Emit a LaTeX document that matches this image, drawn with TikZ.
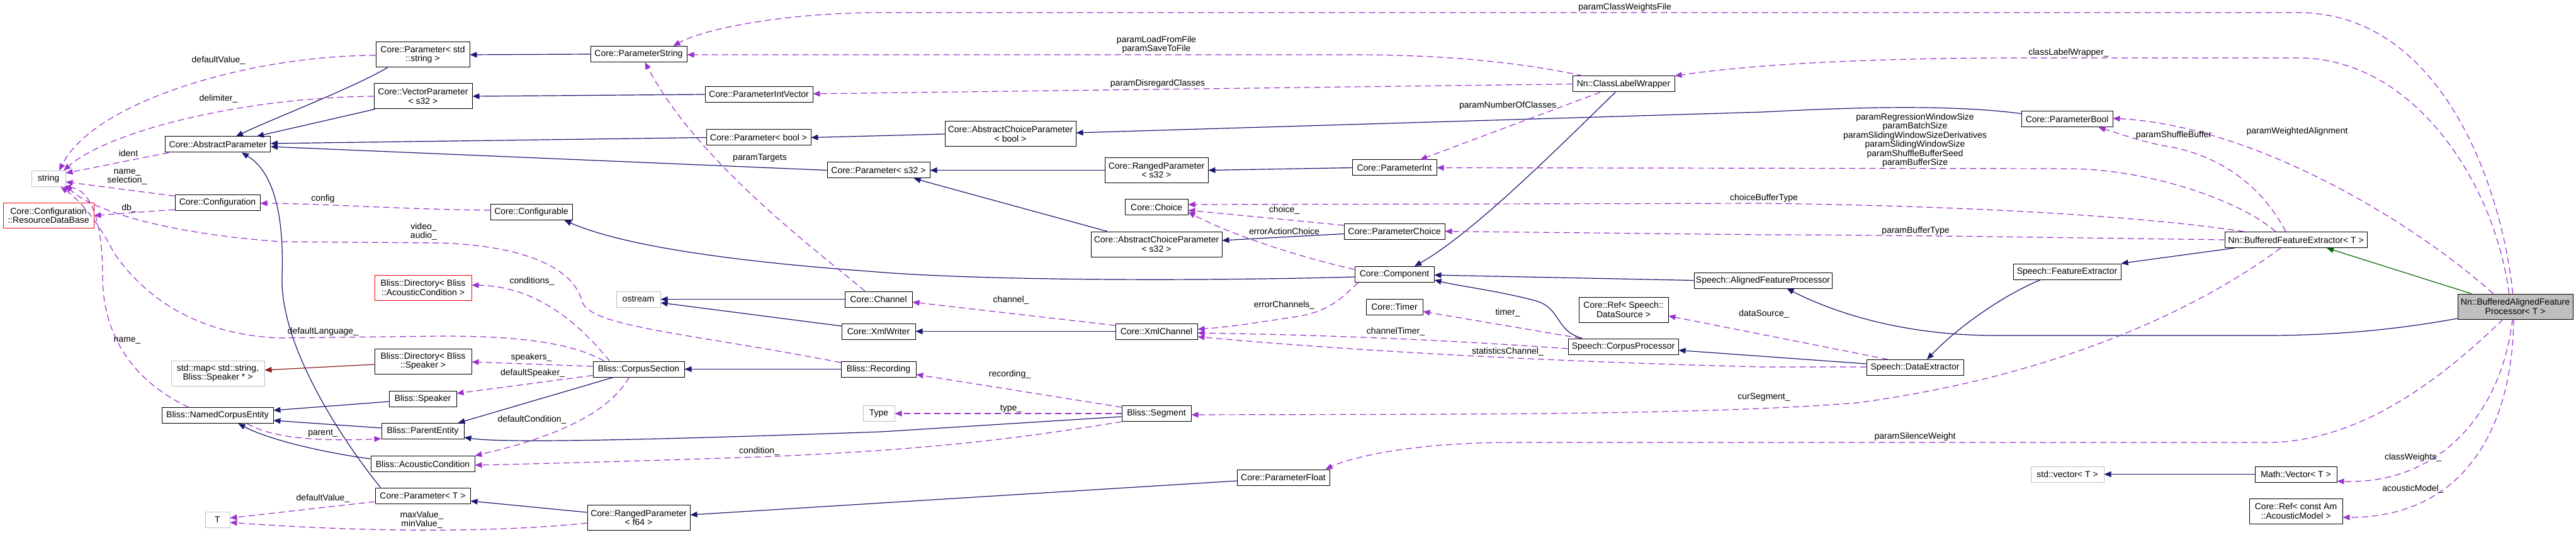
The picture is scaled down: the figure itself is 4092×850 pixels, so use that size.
\documentclass[tikz,border=0pt]{standalone}
\usepackage{fontspec}
\setmainfont{Liberation Sans}
\usetikzlibrary{arrows.meta}
\definecolor{inhblue}{HTML}{191970}
\definecolor{usepurple}{HTML}{9A32CD}
\definecolor{tplred}{HTML}{8B1A1A}
\definecolor{pubgreen}{HTML}{006400}
\newcommand{\diafont}{\fontsize{14}{14.5}\selectfont}

\begin{document}
\begin{tikzpicture}[
      x=1pt, y=-1pt,
      cls/.style={draw=black, line width=1pt, fill=white, inner sep=0pt, minimum height=25pt, align=center, font=\diafont},
      two/.style={cls, minimum height=40pt},
      ext/.style={cls, draw=gray!50},
      inc/.style={two, draw=red},
      inh/.style={-{Triangle[length=11pt, width=9pt]}, line width=1.2pt, draw=inhblue},
      use/.style={-{Triangle[length=11pt, width=9pt]}, line width=1.2pt, draw=usepurple, dash pattern=on 10pt off 6pt},
      lbl/.style={inner sep=0pt, align=center, font=\diafont}
    ]
      \useasboundingbox (0,0) rectangle (4092,850);

      \node[ext, minimum width=54pt] (str) at (77,284) {string};
      \node[inc, minimum width=144pt] (rdb) at (77,342.5) {Core::Configuration\\::ResourceDataBase};
      \node[cls, minimum width=167pt] (ap) at (346,229.5) {Core::AbstractParameter};
      \node[cls, minimum width=135pt] (conf) at (345.5,321.5) {Core::Configuration};
      \node[ext, minimum height=40pt, minimum width=148pt] (smap) at (346,593) {std::map< std::string,\\Bliss::Speaker * >};
      \node[cls, minimum width=177pt] (nce) at (345.5,660) {Bliss::NamedCorpusEntity};
      \node[ext, minimum width=39pt] (tt) at (345.5,826) {T};
      \node[two, minimum width=149pt] (pstd) at (671.5,87) {Core::Parameter< std\\::string >};
      \node[two, minimum width=156pt] (vecp) at (672,153) {Core::VectorParameter\\< s32 >};
      \node[inc, minimum width=154pt] (dirac) at (672,457) {Bliss::Directory< Bliss\\::AcousticCondition >};
      \node[two, minimum width=154pt] (dirsp) at (672,574) {Bliss::Directory< Bliss\\::Speaker >};
      \node[cls, minimum width=107pt] (spk) at (671.5,633.5) {Bliss::Speaker};
      \node[cls, minimum width=131pt] (pent) at (671.5,685) {Bliss::ParentEntity};
      \node[cls, minimum width=165pt] (acond) at (671.5,737) {Bliss::AcousticCondition};
      \node[cls, minimum width=151pt] (part) at (671.5,787.5) {Core::Parameter< T >};
      \node[cls, minimum width=130pt] (cfgable) at (844,337) {Core::Configurable};
      \node[cls, minimum width=153pt] (pstr) at (1014.5,86) {Core::ParameterString};
      \node[ext, minimum width=70pt] (ostr) at (1014,475.5) {ostream};
      \node[cls, minimum width=145pt] (csec) at (1014.5,586.5) {Bliss::CorpusSection};
      \node[two, minimum width=163pt] (rpf) at (1014.5,822.5) {Core::RangedParameter\\< f64 >};
      \node[cls, minimum width=171pt] (piv) at (1205.5,150) {Core::ParameterIntVector};
      \node[cls, minimum width=166pt] (pbool) at (1205,218.5) {Core::Parameter< bool >};
      \node[cls, minimum width=163pt] (ps32) at (1395.5,270.5) {Core::Parameter< s32 >};
      \node[cls, minimum width=107pt] (chan) at (1395.5,475.5) {Core::Channel};
      \node[cls, minimum width=117pt] (xw) at (1395.5,526.5) {Core::XmlWriter};
      \node[cls, minimum width=119pt] (rec) at (1395.5,586.5) {Bliss::Recording};
      \node[ext, minimum width=50pt] (type) at (1396,657) {Type};
      \node[two, minimum width=208pt] (acpb) at (1605,213) {Core::AbstractChoiceParameter\\< bool >};
      \node[two, minimum width=164pt] (rps) at (1837,270.5) {Core::RangedParameter\\< s32 >};
      \node[cls, minimum width=100pt] (choice) at (1837,329) {Core::Choice};
      \node[two, minimum width=208pt] (acps) at (1837,388) {Core::AbstractChoiceParameter\\< s32 >};
      \node[cls, minimum width=130pt] (xc) at (1837,526.5) {Core::XmlChannel};
      \node[cls, minimum width=110pt] (seg) at (1837,657) {Bliss::Segment};
      \node[cls, minimum width=147pt] (pfl) at (2038.5,758.5) {Core::ParameterFloat};
      \node[cls, minimum width=134pt] (pint) at (2215,266.5) {Core::ParameterInt};
      \node[cls, minimum width=160pt] (pch) at (2215,367.5) {Core::ParameterChoice};
      \node[cls, minimum width=126pt] (comp) at (2215,436) {Core::Component};
      \node[cls, minimum width=90pt] (timer) at (2215,487.5) {Core::Timer};
      \node[cls, minimum width=162pt] (clw) at (2579,133.5) {Nn::ClassLabelWrapper};
      \node[two, minimum width=142pt] (refds) at (2579,492) {Core::Ref< Speech::\\DataSource >};
      \node[cls, minimum width=175pt] (cproc) at (2578.5,550.5) {Speech::CorpusProcessor};
      \node[cls, minimum width=219pt] (afp) at (2800.5,445.5) {Speech::AlignedFeatureProcessor};
      \node[cls, minimum width=154pt] (dext) at (3042,584) {Speech::DataExtractor};
      \node[cls, minimum width=145pt] (pbl) at (3283.5,189.5) {Core::ParameterBool};
      \node[cls, minimum width=171pt] (fext) at (3283.5,431.5) {Speech::FeatureExtractor};
      \node[ext, minimum width=116pt] (svec) at (3284,753.5) {std::vector< T >};
      \node[cls, minimum width=226pt] (bfe) at (3647,381) {Nn::BufferedFeatureExtractor< T >};
      \node[cls, minimum width=130pt] (mvec) at (3647,753.5) {Math::Vector< T >};
      \node[two, minimum width=148pt] (refam) at (3647,812) {Core::Ref< const Am\\::AcousticModel >};
      \node[two, fill=gray!50, minimum width=183pt] (bafp) at (3995.5,487) {Nn::BufferedAlignedFeature\\Processor< T >};

      \draw[inh] ([xshift=19pt]pstd.south west) .. controls (560,140) and (430,190) .. ([xshift=29pt]ap.north);
      \draw[inh] ([xshift=2pt]vecp.south west) -- ([xshift=62pt]ap.north);
      \draw[inh] (pbool.west) -- ([yshift=1.5pt]ap.east);
      \draw[inh] (ps32.west) -- ([yshift=-3.5pt]ap.east);
      \draw[inh] ([xshift=9pt]part.north west) .. controls (560,720) and (445,560) .. (448,440) .. controls (452,330) and (430,270) .. ([xshift=38pt]ap.south);
      \draw[inh] (pstr.west) -- (pstd.east);
      \draw[inh] (piv.west) -- (vecp.east);
      \draw[inh] (acpb.west) -- (pbool.east);
      \draw[inh] (rps.west) -- (ps32.east);
      \draw[inh] ([xshift=26pt]acps.north west) -- ([xshift=-26pt]ps32.south east);
      \draw[inh] ([yshift=9pt]pbl.west) .. controls (3100,166) and (2950,170) .. (2800,178) -- ([yshift=2pt]acpb.east);
      \draw[inh] (pint.west) -- (rps.east);
      \draw[inh] ([yshift=-4pt]pch.west) -- ([yshift=6pt]acps.east);
      \draw[inh] ([yshift=-4pt]comp.west) .. controls (1900,447) and (1550,446) .. (1380,431) .. controls (1200,418) and (1000,395) .. ([xshift=-13pt]cfgable.south east);
      \draw[inh] ([xshift=-13pt]clw.south) .. controls (2470,240) and (2340,370) .. ([xshift=32pt]comp.north);
      \draw[inh] (afp.west) -- ([yshift=-1pt]comp.east);
      \draw[inh] ([xshift=-65.5pt]cproc.north) .. controls (2470,525) and (2480,490) .. (2440,478) .. controls (2380,462) and (2320,455) .. ([yshift=-9pt]comp.east);
      \draw[inh] ([yshift=6pt]dext.west) -- ([yshift=-6pt]cproc.east);
      \draw[inh] ([xshift=-42pt]fext.south) .. controls (3180,470) and (3110,520) .. ([xshift=19pt]dext.north);
      \draw[inh] ([xshift=16pt]bfe.south west) -- (fext.north east);
      \draw[inh] ([yshift=-19pt]bafp.west) .. controls (3800,525) and (3700,533) .. (3600,533) -- (3170,533) .. controls (3030,533) and (2920,500) .. ([xshift=38pt]afp.south);
      \draw[inh, draw=pubgreen] ([xshift=-70pt]bafp.north) -- ([xshift=49pt]bfe.south);
      \draw[inh] (xc.west) -- (xw.east);
      \draw[inh] ([yshift=8.5pt]xw.west) -- ([yshift=-5.5pt]ostr.east);
      \draw[inh] (chan.west) -- (ostr.east);
      \draw[inh] (rec.west) -- (csec.east);
      \draw[inh] ([xshift=33pt]csec.south west) -- ([xshift=-10pt]pent.north east);
      \draw[inh] ([yshift=-5pt]seg.west) -- (1400,686) .. controls (1000,700) and (800,704) .. ([yshift=-10pt]pent.east);
      \draw[inh] ([yshift=-4.5pt]spk.west) -- ([yshift=8pt]nce.east);
      \draw[inh] ([yshift=5pt]pent.west) -- ([yshift=-8pt]nce.east);
      \draw[inh] ([yshift=8pt]acond.west) .. controls (520,720) and (430,700) .. ([xshift=33pt]nce.south);
      \draw[inh] ([yshift=8.5pt]rpf.west) -- ([yshift=-8.5pt]part.east);
      \draw[inh] ([yshift=-5.5pt]pfl.west) -- ([yshift=4.5pt]rpf.east);
      \draw[inh] (mvec.west) -- (svec.east);
      \draw[inh, draw=tplred] ([yshift=-5pt]dirsp.west) -- ([yshift=5pt]smap.east);

      \draw[use] ([yshift=-1pt]pstd.west) .. controls (400,88) and (150,160) .. ([xshift=17pt]str.north);
      \draw[use] (vecp.west) .. controls (380,155) and (170,210) .. ([xshift=24pt]str.north);
      \draw[use] ([xshift=6pt]ap.south west) -- ([yshift=9pt]str.east);
      \draw[use] ([yshift=10pt]conf.west) -- ([yshift=-5pt]str.east);
      \draw[use] ([yshift=10.5pt]rec.west) .. controls (1100,530) and (940,520) .. (925,480) .. controls (910,420) and (820,390) .. (700,386) -- (446,384) .. controls (250,370) and (140,330) .. ([yshift=3pt]str.south east);
      \draw[use] ([xshift=-55pt]csec.north) .. controls (900,540) and (800,534) .. (700,534) -- (446,537) .. controls (300,532) and (220,460) .. (180,400) .. controls (160,360) and (130,320) .. ([xshift=-8pt]str.south east);
      \draw[use] ([xshift=-46pt]nce.north) .. controls (200,600) and (163,520) .. (163,440) .. controls (163,340) and (140,300) .. ([xshift=-3pt]str.south east);
      \draw[use] ([yshift=-11.5pt]conf.west) -- (rdb.east);
      \draw[use] ([yshift=3pt]cfgable.west) .. controls (650,333) and (500,323) .. ([yshift=-1.5pt]conf.east);
      \draw[use] ([yshift=-9.5pt]part.west) -- ([yshift=3pt]tt.east);
      \draw[use] ([yshift=-8.5pt]rpf.west) .. controls (800,845) and (600,847) .. ([yshift=-4pt]tt.east);
      \draw[use] ([xshift=47pt]nce.south) .. controls (430,695) and (500,702) .. ([yshift=-12pt]pent.west);
      \draw[use] ([xshift=-46pt]csec.north) .. controls (940,540) and (870,455) .. ([yshift=4pt]dirac.east);
      \draw[use] ([yshift=4.5pt]csec.west) -- ([yshift=-1pt]dirsp.east);
      \draw[use] ([yshift=-10pt]csec.west) -- ([yshift=8.5pt]spk.east);
      \draw[use] ([xshift=-15pt]csec.south) .. controls (970,650) and (900,690) .. (acond.north east);
      \draw[use] ([yshift=-13pt]seg.west) .. controls (1600,700) and (1450,716) .. (1206,726) .. controls (1000,733) and (850,737) .. ([yshift=-2pt]acond.east);
      \draw[use] ([yshift=10pt]seg.west) -- ([yshift=-8.5pt]rec.east);
      \draw[use] (seg.west) -- (type.east);
      \draw[use] ([xshift=-21.5pt]chan.north) .. controls (1300,400) and (1110,260) .. ([xshift=10pt]pstr.south);
      \draw[use] ([yshift=9.5pt]xc.west) -- ([yshift=-4.5pt]chan.east);
      \draw[use] ([xshift=6pt]comp.south west) .. controls (2130,475) and (2110,495) .. (2060,503) .. controls (2000,512) and (1950,520) .. ([yshift=3.5pt]xc.east);
      \draw[use] ([yshift=-3.5pt]cproc.west) .. controls (2300,540) and (2100,532) .. ([yshift=-2.5pt]xc.east);
      \draw[use] ([yshift=1pt]dext.west) -- (2800,583) .. controls (2400,573) and (2100,553) .. ([yshift=-8.5pt]xc.east);
      \draw[use] ([xshift=-67pt]cproc.north) -- ([yshift=-7.5pt]timer.east);
      \draw[use] ([xshift=-43pt]dext.north) -- ([yshift=-10pt]refds.east);
      \draw[use] ([yshift=8pt]comp.west) .. controls (2050,405) and (1950,370) .. ([yshift=-8pt]choice.east);
      \draw[use] ([yshift=9.5pt]pch.west) -- ([yshift=-5pt]choice.east);
      \draw[use] ([xshift=31pt]bfe.north west) .. controls (3450,350) and (3200,328) .. (2800,323) -- ([yshift=4pt]choice.east);
      \draw[use] (bfe.west) .. controls (3300,378) and (3000,373) .. (2800,373) -- (pch.east);
      \draw[use] ([xshift=-32pt]bfe.north) .. controls (3560,320) and (3420,270) .. (3290,268) -- (pint.east);
      \draw[use] ([xshift=-16pt]bfe.north) .. controls (3590,290) and (3520,245) .. (3440,232) .. controls (3400,225) and (3370,213) .. ([xshift=50pt]pbl.south);
      \draw[use] ([xshift=-35pt]bafp.north) .. controls (3830,350) and (3580,200) .. ([yshift=1.5pt]pbl.east);
      \draw[use] ([xshift=-10pt]bafp.north) .. controls (3965,300) and (3840,92) .. (3650,92) -- (3214,92) .. controls (3000,92) and (2800,100) .. (clw.north east);
      \draw[use] ([xshift=-4pt]bafp.north) .. controls (3975,300) and (3880,20) .. (3650,20) -- (1400,20) .. controls (1250,20) and (1120,45) .. ([xshift=55pt]pstr.north);
      \draw[use] ([xshift=17pt]clw.north west) .. controls (2420,100) and (2300,87) .. (2150,87) -- ([yshift=-1pt]pstr.east);
      \draw[use] (clw.west) -- ([yshift=1pt]piv.east);
      \draw[use] ([xshift=-37pt]clw.south) -- ([xshift=41pt]pint.north);
      \draw[use] ([xshift=-24pt]bfe.south) .. controls (3480,500) and (3250,600) .. (2950,640) .. controls (2700,660) and (2300,658) .. ([yshift=-2pt]seg.east);
      \draw[use] ([xshift=-19.5pt]bafp.south) .. controls (3880,600) and (3750,703) .. (3600,703) -- (2400,703) .. controls (2250,703) and (2150,725) .. ([xshift=-7pt]pfl.north east);
      \draw[use] ([xshift=-4.5pt]bafp.south) .. controls (3975,650) and (3880,770) .. ([yshift=-11pt]mvec.east);
      \draw[use] ([xshift=-2.5pt]bafp.south) .. controls (3990,700) and (3900,822) .. ([yshift=-10pt]refam.east);

      \node[lbl] (lDefVal) at (347,96) {defaultValue\_};
      \node[lbl] (lDelim) at (347,157) {delimiter\_};
      \node[lbl] (lIdent) at (204,243) {ident};
      \node[lbl] (lNameSel) at (202,281) {name\_\\selection\_};
      \node[lbl] (lDb) at (205,331) {db\_};
      \node[lbl] (lConfig) at (513,316) {config};
      \node[lbl] (lVideo) at (673,368) {video\_\\audio\_};
      \node[lbl] (lLang) at (513,527) {defaultLanguage\_};
      \node[lbl] (lName) at (202,541) {name\_};
      \node[lbl] (lParent) at (513,688) {parent\_};
      \node[lbl] (lDefValT) at (513,792) {defaultValue\_};
      \node[lbl] (lMinMax) at (670,826) {maxValue\_\\minValue\_};
      \node[lbl] (lCond) at (845,447) {conditions\_};
      \node[lbl] (lSpk) at (844,568) {speakers\_};
      \node[lbl] (lDefSpk) at (846,593) {defaultSpeaker\_};
      \node[lbl] (lDefCond) at (845,667) {defaultCondition\_};
      \node[lbl] (lCondition) at (1206,717) {condition\_};
      \node[lbl] (lTargets) at (1207,251) {paramTargets};
      \node[lbl] (lChan) at (1606,477) {channel\_};
      \node[lbl] (lRec) at (1604,595) {recording\_};
      \node[lbl] (lType) at (1606,649) {type\_};
      \node[lbl] (lLoadSave) at (1837,71) {paramLoadFromFile\\paramSaveToFile};
      \node[lbl] (lDisreg) at (1839,133) {paramDisregardClasses};
      \node[lbl] (lChoice) at (2040,334) {choice\_};
      \node[lbl] (lErrAct) at (2040,367) {errorActionChoice};
      \node[lbl] (lErrChan) at (2040,485) {errorChannels\_};
      \node[lbl] (lWeightsFile) at (2581,12) {paramClassWeightsFile};
      \node[lbl] (lNumClasses) at (2395,168) {paramNumberOfClasses};
      \node[lbl] (lTimer) at (2395,497) {timer\_};
      \node[lbl] (lChanTimer) at (2217,527) {channelTimer\_};
      \node[lbl] (lStatChan) at (2395,559) {statisticsChannel\_};
      \node[lbl] (lChoiceBuf) at (2802,315) {choiceBufferType};
      \node[lbl] (lDataSrc) at (2802,499) {dataSource\_};
      \node[lbl] (lCurSeg) at (2802,631) {curSegment\_};
      \node[lbl] (lClw) at (3286,84) {classLabelWrapper\_};
      \node[lbl] (lIntParams) at (3042,223) {paramRegressionWindowSize\\paramBatchSize\\paramSlidingWindowSizeDerivatives\\paramSlidingWindowSize\\paramShuffleBufferSeed\\paramBufferSize};
      \node[lbl] (lBufType) at (3043,367) {paramBufferType};
      \node[lbl] (lSilence) at (3042,694) {paramSilenceWeight};
      \node[lbl] (lShuffle) at (3453,215) {paramShuffleBuffer};
      \node[lbl] (lWeighted) at (3649,209) {paramWeightedAlignment};
      \node[lbl] (lClassW) at (3833,727) {classWeights\_};
      \node[lbl] (lAcModel) at (3833,777) {acousticModel\_};
    \end{tikzpicture}
\end{document}
